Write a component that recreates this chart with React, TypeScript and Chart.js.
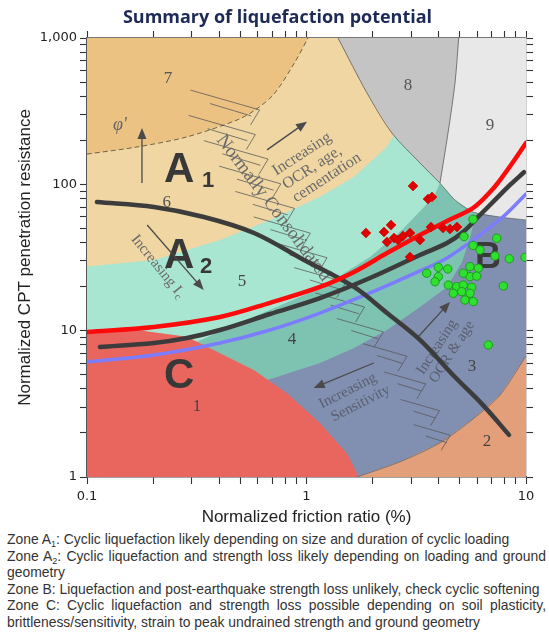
import { useEffect, useRef } from 'react';
import { Chart, registerables } from 'chart.js';

Chart.register(...registerables);

// Normalized friction ratio F (%) and normalized cone resistance Q, as [F, Q] pairs.
const plotFrame: [number, number][] = [[0.1, 1], [10, 1], [10, 1000], [0.1, 1000]];

// Zone edges (soil behaviour type chart)
const zone7Edge: [number, number][] = [[0.1, 161], [0.169, 180], [0.2855, 211], [0.482, 275], [0.583, 322], [0.711, 414], [0.886, 686], [1.016, 1000]];
const zone5Top: [number, number][] = [[0.1, 27.4], [0.202, 30.4], [0.404, 41.6], [0.682, 57.1], [1.152, 82.3], [1.646, 112.8], [2.327, 180.8], [2.667, 254]];
const zone4Top: [number, number][] = [[0.1, 6.11], [0.194, 7.15], [0.317, 8.41], [0.575, 12.46], [1.153, 19.5], [1.953, 32.0], [2.772, 50.1], [3.8, 82.3], [4.056, 102]];
const zone3Top: [number, number][] = [[0.327, 3.36], [0.709, 4.75], [1.152, 6.01], [1.646, 7.61], [2.327, 10.1], [3.289, 14.5], [4.367, 19.9], [5.11, 29.5], [5.556, 43], [5.918, 62.7]];
const zone2Top: [number, number][] = [[1.699, 1], [2.667, 1.27], [4.056, 1.71], [5.735, 2.49], [7.613, 3.63], [10, 6.71]];
const zone1Top: [number, number][] = [[0.1, 9.84], [0.169, 10.1], [0.2855, 9.1], [0.4036, 7.0], [0.5748, 5.38], [0.815, 3.73], [1.153, 2.33], [1.529, 1.45], [1.729, 1]];
const zone8Left: [number, number][] = [[1.392, 1000], [1.886, 421], [2.452, 224], [3.289, 140], [4.056, 102]];
const zone8Right: [number, number][] = [[4.936, 1000], [4.748, 493], [4.411, 224], [4.056, 102]];
const zone9Bottom: [number, number][] = [[4.056, 102], [4.748, 78.2], [5.735, 64.7], [7.613, 59.8], [10, 57.1]];

// Normally consolidated band: anchor points of the hatching
const ncHatch: [number, number][] = [[0.4253, 377], [0.4121, 254.4], [0.4773, 172], [0.5528, 115.8], [0.6471, 78.2], [0.7733, 52.7], [0.934, 35.6], [1.152, 24.0], [1.421, 16.2], [1.753, 10.9], [2.279, 7.38], [2.81, 4.75], [3.289, 3.1], [3.73, 2.096]];

// Liquefaction screening curves
const redCurve: [number, number][] = [[0.1, 9.79], [0.2019, 10.6], [0.4036, 12.4], [0.682, 15.5], [1.152, 19.9], [1.646, 25.2], [2.327, 33.9], [3.289, 45.1], [4.367, 56.2], [5.735, 68.9], [6.856, 88.6], [7.613, 107], [8.727, 142], [10, 191.7]];
const blackCurve: [number, number][] = [[0.1146, 7.73], [0.2019, 8.24], [0.2855, 8.91], [0.4036, 10.1], [0.682, 13.0], [1.152, 16.7], [1.947, 22.9], [3.289, 32.9], [4.367, 39.7], [5.164, 47.2], [6.172, 61.7], [7.378, 80.7], [8.456, 99], [9.793, 121]];
const blueCurve: [number, number][] = [[0.1, 6.11], [0.2019, 6.82], [0.4036, 8.24], [0.682, 10.1], [1.152, 13.2], [1.947, 18.1], [3.289, 25.6], [4.367, 31.4], [6.172, 45.1], [8.024, 61.7], [10, 85.9]];
const ncLine: [number, number][] = [[0.111, 75.7], [0.2019, 70], [0.341, 59.8], [0.5765, 46.5], [0.974, 30.4], [1.646, 19.9], [2.327, 13.2], [3.289, 8.64], [4.748, 4.82], [6.37, 3.1], [8.368, 1.94]];

// CPT data: red diamonds and green circles
const redF = [3.057, 3.577, 3.73, 1.866, 2.255, 2.427, 2.327, 2.504, 2.612, 2.962, 3.289, 2.962, 3.69, 4.187, 4.505, 4.849, 2.752];
const redQ = [97.4, 79.4, 81.9, 46.5, 47.2, 52.7, 40.4, 43, 41.6, 46.5, 41.6, 31.9, 51.1, 50.3, 49.5, 51.1, 44.4];
const greenF = [5.735, 5.219, 7.355, 6.172, 7.225, 8.394, 9.9, 3.986, 4.4, 3.528, 3.986, 3.849, 5.556, 6.064, 5.556, 5.963, 5.18, 4.426, 4.834, 5.18, 5.657, 4.666, 5.093, 5.556, 5.274, 5.753, 7.883, 6.733, 5.735];
const greenQ = [57.7, 43.9, 42.8, 35.6, 32.4, 31.0, 31.7, 27.1, 26.4, 24.7, 23.4, 21.6, 27.4, 26.7, 23.4, 23.6, 24.7, 20.5, 20.0, 20.5, 19.8, 18.0, 18.5, 18.0, 16.2, 15.8, 20.2, 7.98, 38.2];

// Axis ticks
const F_TICKS = [0.1, 0.2, 0.3, 0.4, 0.5, 0.6, 0.7, 0.8, 0.9, 1, 2, 3, 4, 5, 6, 7, 8, 9, 10];
const Q_TICKS = [1, 2, 3, 4, 5, 6, 7, 8, 9, 10, 20, 30, 40, 50, 60, 70, 80, 90, 100, 200, 300, 400, 500, 600, 700, 800, 900, 1000];
const F_LABELS = [0.1, 1, 10];
const Q_LABELS = [1, 10, 100, 1000];

const pts = (pairs: [number, number][]) => pairs.map(([x, y]) => ({ x, y }));
const zip = (xs: number[], ys: number[]) => xs.map((x, i) => ({ x, y: ys[i] }));

const zoneSet = (label: string, pairs: [number, number][], color: string, order: number) => ({
  label,
  data: pts(pairs),
  showLine: true,
  fill: 'shape',
  backgroundColor: color,
  borderColor: 'rgba(0,0,0,0)',
  borderWidth: 0,
  pointRadius: 0,
  tension: 0,
  order,
});

const edgeSet = (label: string, pairs: [number, number][], color: string, width: number, dash: number[] = []) => ({
  label,
  data: pts(pairs),
  showLine: true,
  fill: false,
  borderColor: color,
  borderWidth: width,
  borderDash: dash,
  pointRadius: 0,
  tension: 0.3,
  order: 60,
});

const curveSet = (label: string, pairs: [number, number][], color: string, width: number, order: number) => ({
  label,
  data: pts(pairs),
  showLine: true,
  fill: false,
  borderColor: color,
  borderWidth: width,
  borderCapStyle: 'round',
  pointRadius: 0,
  tension: 0.35,
  order,
});

const SERIF = '"Liberation Serif", "DejaVu Serif", serif';
const SANS = '"Liberation Sans", Arial, sans-serif';

type Note = { t: string; F: number; Q: number; font: string; color: string; rot?: number; align?: CanvasTextAlign; base?: CanvasTextBaseline };

const notes: Note[] = [
  { t: '7', F: 0.234, Q: 530, font: `17px ${SERIF}`, color: '#555' },
  { t: '8', F: 2.9, Q: 477, font: `17px ${SERIF}`, color: '#555' },
  { t: '9', F: 6.86, Q: 254, font: `17px ${SERIF}`, color: '#555' },
  { t: '6', F: 0.231, Q: 74.6, font: `17px ${SERIF}`, color: '#555' },
  { t: '5', F: 0.508, Q: 21.5, font: `17px ${SERIF}`, color: '#444' },
  { t: '4', F: 0.859, Q: 8.64, font: `17px ${SERIF}`, color: '#444' },
  { t: '3', F: 5.68, Q: 5.67, font: `17px ${SERIF}`, color: '#444' },
  { t: '2', F: 6.64, Q: 1.74, font: `17px ${SERIF}`, color: '#444' },
  { t: '1', F: 0.317, Q: 3.01, font: `17px ${SERIF}`, color: '#444' },
  { t: 'A', F: 0.2243, Q: 103.8, font: `bold 42px ${SANS}`, color: '#383838', align: 'left', base: 'alphabetic' },
  { t: '1', F: 0.3342, Q: 95.9, font: `bold 22px ${SANS}`, color: '#383838', align: 'left', base: 'alphabetic' },
  { t: 'A', F: 0.2243, Q: 26.8, font: `bold 42px ${SANS}`, color: '#383838', align: 'left', base: 'alphabetic' },
  { t: '2', F: 0.3271, Q: 24.8, font: `bold 22px ${SANS}`, color: '#383838', align: 'left', base: 'alphabetic' },
  { t: 'C', F: 0.2243, Q: 4.06, font: `bold 42px ${SANS}`, color: '#383838', align: 'left', base: 'alphabetic' },
  { t: 'B', F: 5.858, Q: 26.8, font: `bold 36px ${SANS}`, color: '#3a3a3a', align: 'left', base: 'alphabetic' },
  { t: 'Increasing', F: 0.7112, Q: 121, font: `16px ${SERIF}`, color: '#6a6a6a', rot: -33, align: 'left' },
  { t: 'OCR, age,', F: 0.7897, Q: 97.4, font: `16px ${SERIF}`, color: '#6a6a6a', rot: -33, align: 'left' },
  { t: 'cementation', F: 0.8772, Q: 79.4, font: `16px ${SERIF}`, color: '#6a6a6a', rot: -33, align: 'left' },
  { t: 'Normally Consolidated', F: 0.4036, Q: 210.6, font: `19px ${SERIF}`, color: '#6a6a6a', rot: 53, align: 'left' },
  { t: 'Increasing', F: 1.152, Q: 3.1, font: `15px ${SERIF}`, color: '#5a5f70', rot: -27, align: 'left' },
  { t: 'Sensitivity', F: 1.307, Q: 2.53, font: `15px ${SERIF}`, color: '#5a5f70', rot: -27, align: 'left' },
  { t: 'Increasing', F: 3.93, Q: 7.73, font: `15px ${SERIF}`, color: '#5a5f70', rot: -57 },
  { t: 'OCR & age', F: 4.6, Q: 7.15, font: `15px ${SERIF}`, color: '#5a5f70', rot: -57 },
  { t: "\u03c6'", F: 0.1413, Q: 254, font: `italic 18px ${SERIF}`, color: '#666' },
];

// arrows: [F0, Q0, F1, Q1], head at the second point
const arrows: [number, number, number, number][] = [
  [0.661, 172, 1.005, 268],
  [0.178, 102, 0.178, 243],
  [0.188, 52.7, 0.34, 19],
  [2.023, 6.01, 1.078, 4.06],
  [3.221, 9.05, 4.505, 15.7],
];

function drawHatch(chart: Chart) {
  const { ctx } = chart;
  const sx = chart.scales.x;
  const sy = chart.scales.y;
  ctx.save();
  ctx.strokeStyle = 'rgba(85,85,85,0.75)';
  ctx.lineWidth = 1;
  const n = ncHatch.length;
  ncHatch.forEach(([f, q], i) => {
    const x = sx.getPixelForValue(f);
    const y = sy.getPixelForValue(q);
    const len = 72 - (34 * i) / (n - 1);
    const a = (16 * Math.PI) / 180;
    const dx = (Math.cos(a) * len) / 2;
    const dy = (Math.sin(a) * len) / 2;
    // long stroke of the zig-zag
    ctx.beginPath();
    ctx.moveTo(x - dx, y - dy);
    ctx.lineTo(x + dx, y + dy);
    // short return stroke
    ctx.lineTo(x + dx - 9, y + dy + 15);
    ctx.stroke();
    // second, shorter stroke below
    ctx.beginPath();
    ctx.moveTo(x - dx * 0.55 + 4, y - dy * 0.55 + 9);
    ctx.lineTo(x + dx * 0.7 + 2, y + dy * 0.7 + 9);
    ctx.stroke();
  });
  ctx.restore();
}

function drawNotes(chart: Chart) {
  const { ctx, chartArea } = chart;
  const sx = chart.scales.x;
  const sy = chart.scales.y;
  ctx.save();
  ctx.beginPath();
  ctx.rect(chartArea.left, chartArea.top, chartArea.right - chartArea.left, chartArea.bottom - chartArea.top);
  ctx.clip();

  drawHatch(chart);

  // "Increasing Ic" with its subscript
  {
    const x = sx.getPixelForValue(0.1632);
    const y = sy.getPixelForValue(43.9);
    ctx.save();
    ctx.translate(x, y);
    ctx.rotate((51 * Math.PI) / 180);
    ctx.font = `15px ${SERIF}`;
    ctx.fillStyle = '#6a6a6a';
    ctx.textAlign = 'left';
    ctx.textBaseline = 'middle';
    const main = 'Increasing I';
    ctx.fillText(main, 0, 0);
    const w = ctx.measureText(main).width;
    ctx.font = `11px ${SERIF}`;
    ctx.fillText('c', w + 1, 4);
    ctx.restore();
  }

  for (const n of notes) {
    const x = sx.getPixelForValue(n.F);
    const y = sy.getPixelForValue(n.Q);
    ctx.save();
    ctx.translate(x, y);
    ctx.rotate(((n.rot || 0) * Math.PI) / 180);
    ctx.font = n.font;
    ctx.fillStyle = n.color;
    ctx.textAlign = n.align || 'center';
    ctx.textBaseline = n.base || 'middle';
    ctx.fillText(n.t, 0, 0);
    ctx.restore();
  }

  ctx.strokeStyle = '#4a4a4a';
  ctx.fillStyle = '#4a4a4a';
  ctx.lineWidth = 1.3;
  for (const [f0, q0, f1, q1] of arrows) {
    const x0 = sx.getPixelForValue(f0);
    const y0 = sy.getPixelForValue(q0);
    const x1 = sx.getPixelForValue(f1);
    const y1 = sy.getPixelForValue(q1);
    const a = Math.atan2(y1 - y0, x1 - x0);
    ctx.beginPath();
    ctx.moveTo(x0, y0);
    ctx.lineTo(x1 - 6 * Math.cos(a), y1 - 6 * Math.sin(a));
    ctx.stroke();
    ctx.beginPath();
    ctx.moveTo(x1, y1);
    ctx.lineTo(x1 - 11 * Math.cos(a) + 4.5 * Math.sin(a), y1 - 11 * Math.sin(a) - 4.5 * Math.cos(a));
    ctx.lineTo(x1 - 11 * Math.cos(a) - 4.5 * Math.sin(a), y1 - 11 * Math.sin(a) + 4.5 * Math.cos(a));
    ctx.closePath();
    ctx.fill();
  }
  ctx.restore();
}

function drawText(ctx: CanvasRenderingContext2D, x: number, y: number, text: string, font: string, color: string, rot = 0) {
  ctx.save();
  ctx.translate(x, y);
  ctx.rotate((rot * Math.PI) / 180);
  ctx.font = font;
  ctx.fillStyle = color;
  ctx.textAlign = 'center';
  ctx.textBaseline = 'middle';
  ctx.fillText(text, 0, 0);
  ctx.restore();
}

const overlayPlugin = {
  id: 'sbtOverlay',
  afterDatasetDraw(chart: Chart, args: { index: number }) {
    const ds = chart.data.datasets[args.index] as { label?: string };
    if (ds.label === 'Zone 9') drawNotes(chart);
  },
  afterDraw(chart: Chart) {
    const { ctx, chartArea } = chart;
    drawText(ctx, chart.width / 2 + 3, 18, 'Summary of liquefaction potential', 'bold 18px "Open Sans", sans-serif', '#1d2a55');
    drawText(ctx, 25, (chartArea.top + chartArea.bottom) / 2, 'Normalized CPT penetration resistance', `17px ${SANS}`, '#222', -90);
    drawText(ctx, (chartArea.left + chartArea.right) / 2, 517, 'Normalized friction ratio (%)', `17px ${SANS}`, '#222');
  },
};

const isLabel = (v: number, list: number[]) => list.some((l) => Math.abs(l - v) < 1e-9 * Math.max(1, l));
const fmt = (v: number) => (v >= 1000 ? v.toLocaleString('en-US') : String(v));

function axis(position: 'bottom' | 'top' | 'left' | 'right', ticks: number[], labels: number[] | null, min: number, max: number, size: number, borderColor: string) {
  const horizontal = position === 'bottom' || position === 'top';
  return {
    type: 'logarithmic',
    position,
    min,
    max,
    afterBuildTicks: (scale: any) => {
      scale.ticks = ticks.map((value) => ({ value }));
    },
    afterFit: (scale: any) => {
      if (horizontal) scale.height = size;
      else scale.width = size;
    },
    grid: {
      display: true,
      drawOnChartArea: false,
      drawTicks: true,
      tickLength: 7,
      tickColor: '#333',
      tickWidth: 1.1,
    },
    border: { display: true, color: borderColor, width: 1.4 },
    ticks: {
      display: true,
      autoSkip: false,
      maxRotation: 0,
      minRotation: 0,
      padding: horizontal ? 5 : 3,
      color: '#222',
      font: { family: '"DejaVu Sans", sans-serif', size: 13 },
      callback: (v: number | string) => {
        const n = Number(v);
        return labels && isLabel(n, labels) ? fmt(n) : '';
      },
    },
  };
}

export default function App() {
  const ref = useRef<HTMLCanvasElement>(null);

  useEffect(() => {
    const canvas = ref.current;
    if (!canvas) return;
    const datasets: any[] = [
      zoneSet('Zone 6', plotFrame, '#efd6a3', 100),
      zoneSet('Zone 7', [...zone7Edge, [0.1, 1000]], '#ecc283', 99),
      zoneSet('Zone 5', [...zone5Top, [10, 254], [10, 1], [0.1, 1]], '#a9e6d1', 98),
      zoneSet('Zone 4', [...zone4Top, [10, 102], [10, 1], [0.1, 1]], '#7ec3b2', 97),
      zoneSet('Zone 3', [...zone3Top, [10, 62.7], [10, 1], [0.327, 1]], '#8190b0', 96),
      zoneSet('Zone 2', [...zone2Top, [10, 1]], '#e39f79', 95),
      zoneSet('Zone 1', [...zone1Top, [0.1, 1]], '#e9665e', 94),
      zoneSet('Zone 8', [...zone8Left, ...zone8Right.slice(0, -1).reverse()], '#c4c4c4', 93),
      zoneSet('Zone 9', [...zone8Right, ...zone9Bottom.slice(1), [10, 1000]], '#e8e8e8', 92),
      edgeSet('Edge 7', zone7Edge, 'rgba(70,60,40,0.75)', 1, [5, 3]),
      edgeSet('Edge 8', zone8Left, 'rgba(90,90,90,0.8)', 1),
      edgeSet('Edge 8-9', zone8Right, 'rgba(90,90,90,0.8)', 1),
      edgeSet('Edge 9', zone9Bottom, 'rgba(90,90,90,0.6)', 1),
      edgeSet('Edge 2', zone2Top, 'rgba(90,90,90,0.6)', 1),
      curveSet('Lower bound', blueCurve, '#7c7cff', 3.5, 12),
      curveSet('Diagonal', ncLine, '#3c3c3c', 4.5, 11),
      curveSet('Middle', blackCurve, '#3c3c3c', 4.5, 10),
      curveSet('Upper bound', redCurve, '#ff0a0a', 4.5, 9),
      {
        label: 'Green sites',
        data: zip(greenF, greenQ),
        pointStyle: 'circle',
        pointRadius: 4.2,
        backgroundColor: '#2fe02f',
        borderColor: '#1b9c1b',
        borderWidth: 1,
        order: 2,
      },
      {
        label: 'Red sites',
        data: zip(redF, redQ),
        pointStyle: 'rectRot',
        pointRadius: 5,
        backgroundColor: '#e00000',
        borderColor: '#c00000',
        borderWidth: 0.5,
        order: 1,
      },
    ];

    const chart = new Chart(canvas, {
      type: 'scatter',
      data: { datasets },
      options: {
        animation: false,
        responsive: false,
        maintainAspectRatio: false,
        devicePixelRatio: 1,
        events: [],
        layout: { padding: 0 },
        plugins: {
          legend: { display: false },
          tooltip: { enabled: false },
          title: { display: false },
        },
        scales: {
          x: axis('bottom', F_TICKS, F_LABELS, 0.1, 10, 53, '#444'),
          xTop: axis('top', F_TICKS, null, 0.1, 10, 38, '#777'),
          y: axis('left', Q_TICKS, Q_LABELS, 1, 1000, 87, '#555'),
          yRight: axis('right', Q_TICKS, null, 1, 1000, 23, '#888'),
        },
      } as any,
      plugins: [overlayPlugin as any],
    });
    return () => chart.destroy();
  }, []);

  const sub = (s: string) => <span style={{ fontSize: '9px', position: 'relative', top: '3px' }}>{s}</span>;
  const line = (justify: boolean) => ({
    whiteSpace: (justify ? 'normal' : 'nowrap') as any,
    textAlign: (justify ? 'justify' : 'left') as any,
    textAlignLast: (justify ? 'justify' : 'auto') as any,
    height: '16.6px',
  });

  return (
    <div style={{ position: 'absolute', left: 0, top: 0, width: 549, height: 639, background: '#fff', overflow: 'hidden' }}>
      <canvas ref={ref} width={549} height={530} style={{ display: 'block', width: 549, height: 530 }} />
      <div
        style={{
          position: 'absolute',
          left: 7,
          top: 531,
          width: 539,
          font: `13.9px ${SANS}`,
          lineHeight: '16.6px',
          color: '#333',
        }}
      >
        <div style={line(false)}>Zone A{sub('1')}: Cyclic liquefaction likely depending on size and duration of cyclic loading</div>
        <div style={line(true)}>Zone A{sub('2')}: Cyclic liquefaction and strength loss likely depending on loading and ground</div>
        <div style={line(false)}>geometry</div>
        <div style={line(false)}>Zone B: Liquefaction and post-earthquake strength loss unlikely, check cyclic softening</div>
        <div style={line(true)}>Zone C: Cyclic liquefaction and strength loss possible depending on soil plasticity,</div>
        <div style={line(false)}>brittleness/sensitivity, strain to peak undrained strength and ground geometry</div>
      </div>
    </div>
  );
}
